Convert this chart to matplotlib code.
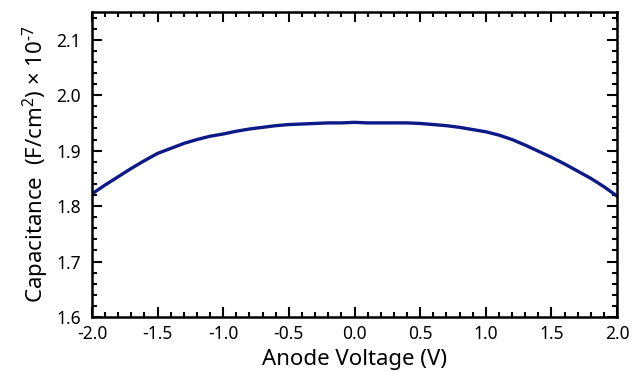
import numpy as np
import matplotlib.pyplot as plt
from matplotlib.ticker import MultipleLocator

voltage = [-2.0, -1.9, -1.8, -1.7, -1.6, -1.5, -1.4, -1.3, -1.2, -1.1, -1.0,
           -0.9, -0.8, -0.7, -0.6, -0.5, -0.4, -0.3, -0.2, -0.1, 0.0,
           0.1, 0.2, 0.3, 0.4, 0.5, 0.6, 0.7, 0.8, 0.9, 1.0,
           1.1, 1.2, 1.3, 1.4, 1.5, 1.6, 1.7, 1.8, 1.9, 2.0]
capacitance = [1.822, 1.838, 1.853, 1.868, 1.882, 1.895, 1.904, 1.913, 1.920, 1.926, 1.930,
               1.935, 1.939, 1.942, 1.945, 1.947, 1.948, 1.949, 1.950, 1.950, 1.951,
               1.950, 1.950, 1.950, 1.950, 1.949, 1.947, 1.945, 1.942, 1.938, 1.934,
               1.928, 1.920, 1.910, 1.899, 1.888, 1.876, 1.863, 1.850, 1.835, 1.818]

plt.rcParams['font.family'] = ['Noto Sans', 'DejaVu Sans']
plt.rcParams['axes.unicode_minus'] = False
plt.rcParams['mathtext.fontset'] = 'custom'
plt.rcParams['mathtext.rm'] = 'Noto Sans'
fig, ax = plt.subplots(figsize=(6.41, 3.72), dpi=100)
fig.subplots_adjust(left=0.1435, right=0.9626, top=0.9677, bottom=0.148)

ax.plot(voltage, capacitance, color='#0c1a88', lw=2.4)

ax.set_xlim(-2.0, 2.0)
ax.set_ylim(1.6, 2.15)
ax.xaxis.set_major_locator(MultipleLocator(0.5))
ax.xaxis.set_minor_locator(MultipleLocator(0.1))
ax.yaxis.set_major_locator(MultipleLocator(0.1))
ax.yaxis.set_minor_locator(MultipleLocator(0.02))
ax.xaxis.set_major_formatter(plt.FormatStrFormatter('%.1f'))
ax.yaxis.set_major_formatter(plt.FormatStrFormatter('%.1f'))
ax.tick_params(which='both', direction='in', top=True, right=True, width=1.5, labelsize=12.5)
ax.tick_params(which='major', length=7.5)
ax.tick_params(axis='x', which='major', pad=6)
ax.tick_params(axis='y', which='major', pad=8)
ax.tick_params(which='minor', length=3.5)
for s in ax.spines.values():
    s.set_linewidth(1.8)

ax.set_xlabel('Anode Voltage (V)', fontsize=16, labelpad=4)
ax.set_ylabel('Capacitance  (F/cm$^{2}$) \u00d7 10$^{\u2010 7}$', fontsize=16, labelpad=4)

plt.savefig('out.png', dpi=100)
